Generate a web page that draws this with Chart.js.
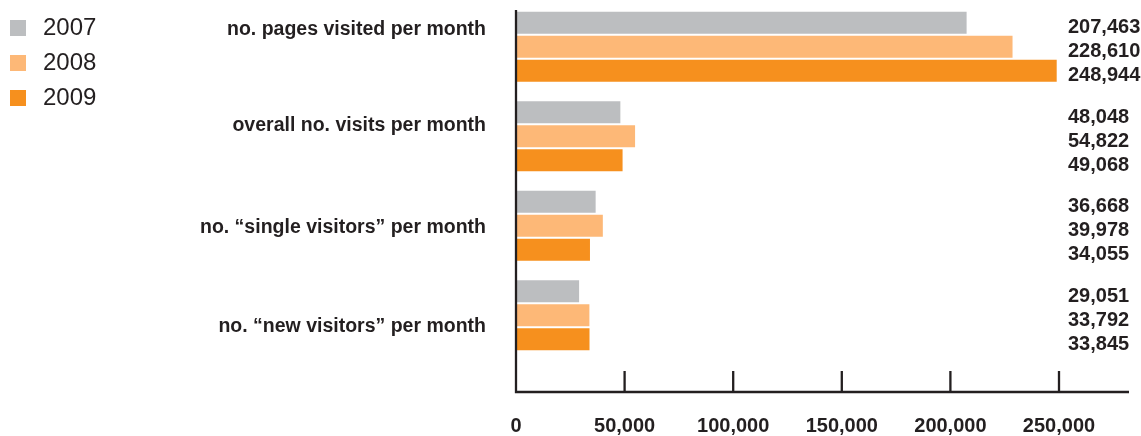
<!DOCTYPE html>
<html>
<head>
<meta charset="utf-8">
<script src="https://cdn.jsdelivr.net/npm/chart.js@4"></script>
<style>
  html, body { margin:0; padding:0; background:#fff; }
  #caixa { width:1141px; height:436px; }
</style>
</head>
<body>
<div id="caixa"><canvas id="cvsVisitas"></canvas></div>
<script>
//dados do grafico
const categorias = [
  "no. pages visited per month",
  "overall no. visits per month",
  "no. \u201csingle visitors\u201d per month",
  "no. \u201cnew visitors\u201d per month"
];
const anos = ["2007", "2008", "2009"];
const valores2007 = [207463, 48048, 36668, 29051];
const valores2008 = [228610, 54822, 39978, 33792];
const valores2009 = [248944, 49068, 34055, 33845];
const ticksX = [0, 50000, 100000, 150000, 200000, 250000];

//cores
const cores = ["#bcbec0", "#fdb877", "#f6901e"];
const corTexto = "#231f20";
const fonte = "'Liberation Sans', Arial, sans-serif";

//ajuste fino da posicao dos nomes das categorias (igual ao original)
const deslocCategoria = [-11.75, -5.25, 7.25, 16.5];

const ctxVisitas = document.getElementById("cvsVisitas");

function formata(v) {
  return v.toLocaleString("en-US");
}

//desenha eixos, legenda, nomes e valores
const desenhaExtras = {
  id: "desenhaExtras",
  afterDatasetsDraw(chart) {
    const { ctx, chartArea } = chart;
    const x = chart.scales.x;
    const y = chart.scales.y;
    const x0 = x.getPixelForValue(0);
    const eixoY = chartArea.bottom + 32;

    ctx.save();
    ctx.strokeStyle = corTexto;
    ctx.lineWidth = 2.3;
    ctx.beginPath();
    ctx.moveTo(x0, chartArea.top + 8);
    ctx.lineTo(x0, eixoY);
    ctx.lineTo(x.right + 70, eixoY);
    x.ticks.forEach(t => {
      if (t.value > 0) {
        const px = x.getPixelForValue(t.value);
        ctx.moveTo(px, eixoY);
        ctx.lineTo(px, eixoY - 21);
      }
    });
    ctx.stroke();

    ctx.fillStyle = corTexto;
    ctx.textBaseline = "alphabetic";

    //nomes das categorias
    ctx.font = "bold 19.5px " + fonte;
    ctx.textAlign = "right";
    chart.data.labels.forEach((nome, j) => {
      ctx.fillText(nome, x0 - 30, y.getPixelForValue(j) + deslocCategoria[j]);
    });

    //valores na direita
    ctx.font = "bold 20px " + fonte;
    ctx.textAlign = "left";
    chart.data.datasets.forEach((ds, i) => {
      const meta = chart.getDatasetMeta(i);
      meta.data.forEach((barra, j) => {
        ctx.fillText(formata(ds.data[j]), x.right + 9, barra.y + 10.5);
      });
    });

    //legenda
    ctx.font = "24px " + fonte;
    chart.data.datasets.forEach((ds, i) => {
      ctx.fillStyle = ds.backgroundColor;
      ctx.fillRect(10, 20 + 35 * i, 16, 16);
      ctx.fillStyle = corTexto;
      ctx.fillText(ds.label, 43, 35 + 35 * i);
    });
    ctx.restore();
  }
};

new Chart(ctxVisitas, {
  type: "bar",
  data: {
    labels: categorias,
    datasets: [
      { label: anos[0], data: valores2007, backgroundColor: cores[0] },
      { label: anos[1], data: valores2008, backgroundColor: cores[1] },
      { label: anos[2], data: valores2009, backgroundColor: cores[2] }
    ]
  },
  options: {
    indexAxis: "y",
    responsive: true,
    maintainAspectRatio: false,
    animation: false,
    layout: { padding: { left: 516, right: 82, top: 2, bottom: 0 } },
    datasets: { bar: { categoryPercentage: 0.8045, barPercentage: 0.9167 } },
    plugins: { legend: { display: false }, tooltip: { enabled: false } },
    scales: {
      y: { display: false },
      x: {
        min: 0,
        max: 250000,
        grid: { display: false, drawTicks: false },
        border: { display: false },
        afterBuildTicks: s => { s.ticks = ticksX.map(v => ({ value: v })); },
        afterFit: s => { s.height = 76; s.paddingLeft = 0; s.paddingRight = 0; },
        ticks: {
          padding: 54,
          maxRotation: 0,
          autoSkip: false,
          color: corTexto,
          font: { family: fonte, weight: "bold", size: 20 },
          callback: v => formata(v)
        }
      }
    }
  },
  plugins: [desenhaExtras]
});
</script>
</body>
</html>
